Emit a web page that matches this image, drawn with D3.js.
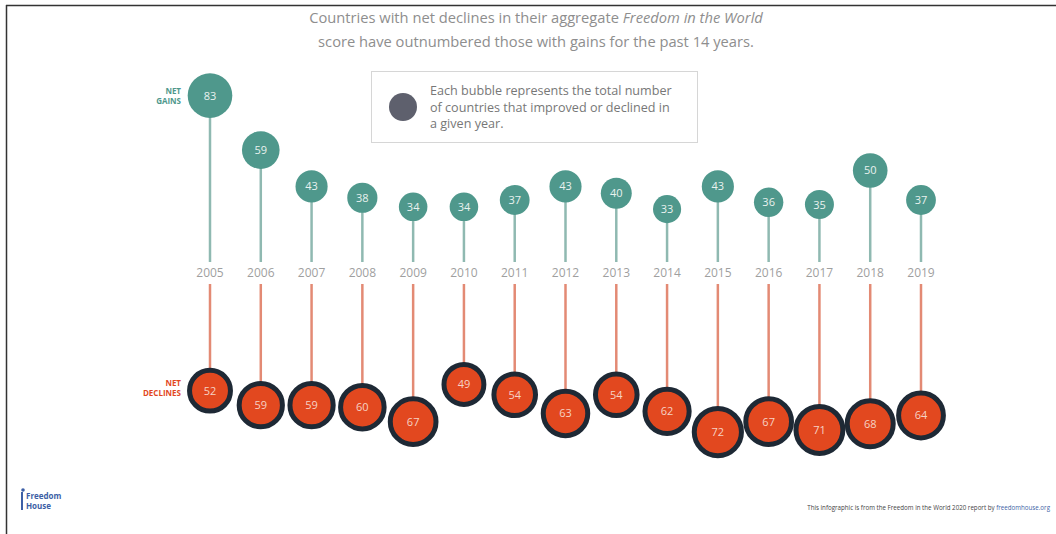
<!DOCTYPE html>
<html>
<head>
<meta charset="utf-8">
<script src="https://cdn.jsdelivr.net/npm/d3@7/dist/d3.min.js"></script>
<style>
  html, body { margin: 0; padding: 0; background: #fff; }
  svg { display: block; font-family: "Open Sans", "Lato", sans-serif; }
</style>
</head>
<body>
<svg id="chart" width="1056" height="534"></svg>
<script>
// Net gains / net declines in Freedom in the World aggregate scores, 2005-2019
const years    = [2005, 2006, 2007, 2008, 2009, 2010, 2011, 2012, 2013, 2014, 2015, 2016, 2017, 2018, 2019];
const gains    = [83, 59, 43, 38, 34, 34, 37, 43, 40, 33, 43, 36, 35, 50, 37];
const declines = [52, 59, 59, 60, 67, 49, 54, 63, 54, 62, 72, 67, 71, 68, 64];

const titleLines  = ["Countries with net declines in their aggregate ", "score have outnumbered those with gains for the past 14 years."];
const legendLines = ["Each bubble represents the total number", "of countries that improved or declined in", "a given year."];

const svg = d3.select("#chart");

const teal = "#4f988c", tealStem = "#8fb9b1";
const orange = "#e2481f", orangeStem = "#e38a74", ring = "#1e2935";

// frame
svg.append("line").attr("x1", 6).attr("x2", 1056).attr("y1", 5.5).attr("y2", 5.5)
  .attr("stroke", "#333").attr("stroke-width", 1.5);
svg.append("line").attr("x1", 6.5).attr("x2", 6.5).attr("y1", 5).attr("y2", 534)
  .attr("stroke", "#333").attr("stroke-width", 1.5);

// title
const title = svg.append("text").attr("x", 536).attr("text-anchor", "middle")
  .attr("fill", "#8e8e8e").attr("font-size", 14.7);
const t1 = title.append("tspan").attr("x", 536).attr("y", 23);
t1.append("tspan").text(titleLines[0]);
t1.append("tspan").attr("font-style", "italic").text("Freedom in the World");
title.append("tspan").attr("x", 536).attr("y", 47).text(titleLines[1]);

// legend
svg.append("rect").attr("x", 371.5).attr("y", 71.5).attr("width", 326).attr("height", 71)
  .attr("fill", "#fff").attr("stroke", "#d6d6d6").attr("stroke-width", 1);
svg.append("circle").attr("cx", 403).attr("cy", 107).attr("r", 14).attr("fill", "#5e606d");
svg.append("g").selectAll("text").data(legendLines).join("text")
  .attr("x", 430).attr("y", (d, i) => 95 + i * 16.5)
  .attr("fill", "#777").attr("font-size", 12.6).text(d => d);

// scales
const x = d3.scalePoint().domain(years).range([210, 921]);
const yGain = d3.scaleLinear().domain([0, 100]).range([284, 57]);
const yDecl = d3.scaleLinear().domain([0, 100]).range([283, 490]);
const rGain = d3.scaleSqrt().domain([0, 100]).range([0, 24.5]);
const rDecl = d3.scaleSqrt().domain([0, 100]).range([2.8, 27.3]);

const gainData = years.map((yr, i) => ({ yr, v: gains[i] }));
const declData = years.map((yr, i) => ({ yr, v: declines[i] }));

// gain stems and bubbles
const gG = svg.append("g");
gG.selectAll("line").data(gainData).join("line")
  .attr("x1", d => x(d.yr)).attr("x2", d => x(d.yr))
  .attr("y1", d => yGain(d.v)).attr("y2", 262)
  .attr("stroke", tealStem).attr("stroke-width", 2.5);
gG.selectAll("circle").data(gainData).join("circle")
  .attr("cx", d => x(d.yr)).attr("cy", d => yGain(d.v)).attr("r", d => rGain(d.v))
  .attr("fill", teal);
gG.selectAll("text").data(gainData).join("text")
  .attr("x", d => x(d.yr)).attr("y", d => yGain(d.v)).attr("dy", "0.36em")
  .attr("text-anchor", "middle").attr("fill", "#e9f2ef").attr("font-size", 11)
  .text(d => d.v);

// decline stems and bubbles
const dG = svg.append("g");
dG.selectAll("line").data(declData).join("line")
  .attr("x1", d => x(d.yr)).attr("x2", d => x(d.yr))
  .attr("y1", 284).attr("y2", d => yDecl(d.v))
  .attr("stroke", orangeStem).attr("stroke-width", 2.5);
dG.selectAll("circle").data(declData).join("circle")
  .attr("cx", d => x(d.yr)).attr("cy", d => yDecl(d.v)).attr("r", d => rDecl(d.v))
  .attr("fill", orange).attr("stroke", ring).attr("stroke-width", 5);
dG.selectAll("text").data(declData).join("text")
  .attr("x", d => x(d.yr)).attr("y", d => yDecl(d.v)).attr("dy", "0.36em")
  .attr("text-anchor", "middle").attr("fill", "#f6d2c4").attr("font-size", 11)
  .text(d => d.v);

// year labels
svg.append("g").selectAll("text").data(years).join("text")
  .attr("x", d => x(d)).attr("y", 277).attr("text-anchor", "middle")
  .attr("fill", "#9f9f9f").attr("font-size", 12).text(d => d);

// series labels
const sl = svg.append("g").attr("font-size", 8).attr("font-weight", 700).attr("text-anchor", "end");
sl.append("text").attr("x", 181).attr("y", 94).attr("fill", teal).text("NET");
sl.append("text").attr("x", 181).attr("y", 104).attr("fill", teal).text("GAINS");
sl.append("text").attr("x", 181).attr("y", 386).attr("fill", orange).text("NET");
sl.append("text").attr("x", 181).attr("y", 396).attr("fill", orange).text("DECLINES");

// publisher mark
const logo = svg.append("g").attr("fill", "#3d5fa6");
logo.append("rect").attr("x", 21).attr("y", 492).attr("width", 2).attr("height", 18);
logo.append("circle").attr("cx", 23).attr("cy", 490).attr("r", 1.8);
logo.append("text").attr("x", 26).attr("y", 499).attr("font-size", 8).attr("font-weight", 700).text("Freedom");
logo.append("text").attr("x", 26).attr("y", 509).attr("font-size", 8).attr("font-weight", 700).text("House");

// source note
const note = svg.append("text").attr("x", 1050).attr("y", 510).attr("text-anchor", "end")
  .attr("font-size", 6.2).attr("fill", "#444");
note.append("tspan").text("This infographic is from the Freedom in the World 2020 report by ");
note.append("tspan").attr("fill", "#3d5fa6").text("freedomhouse.org");
</script>
</body>
</html>
